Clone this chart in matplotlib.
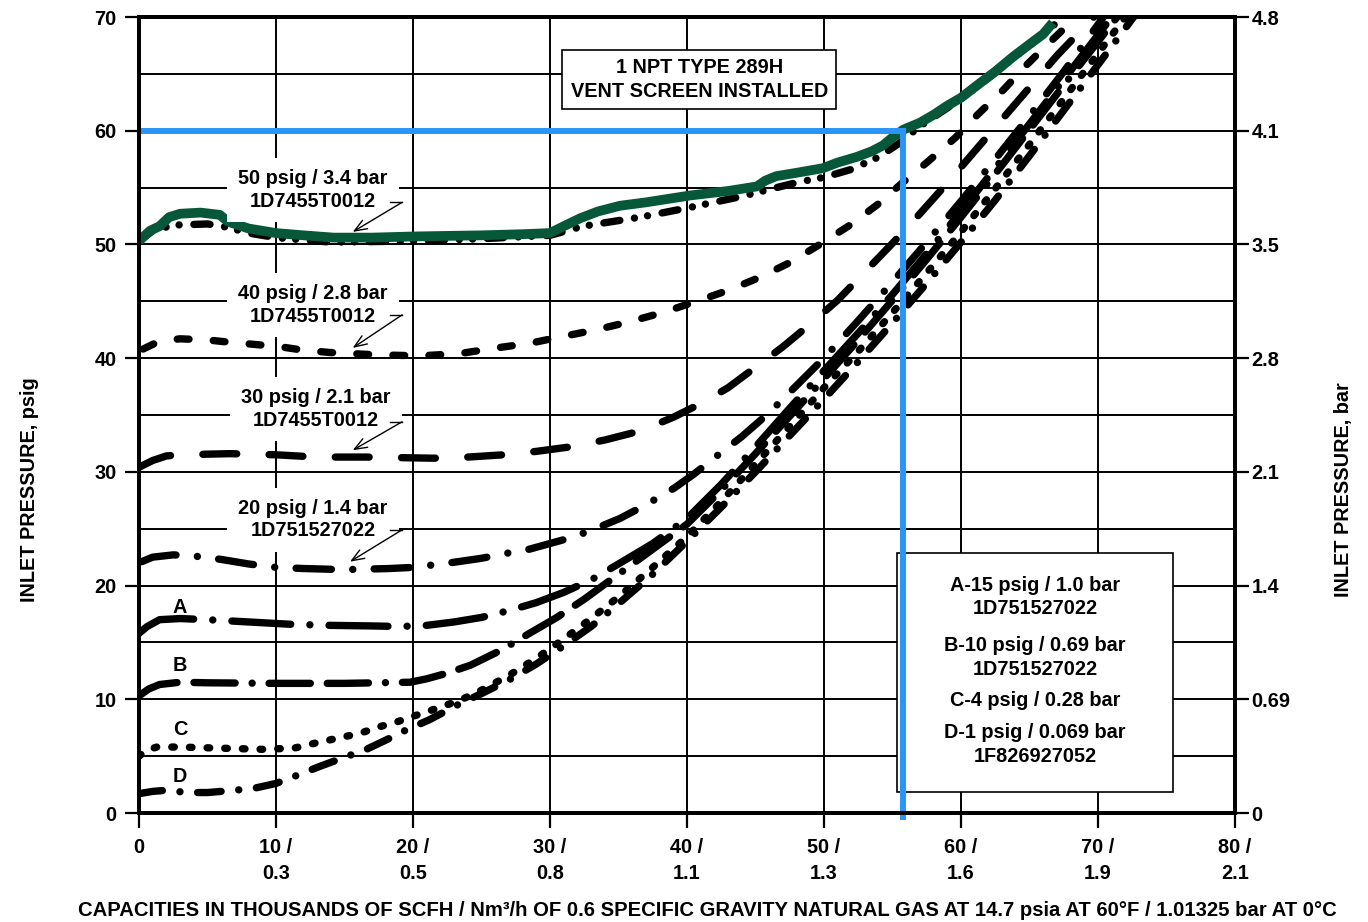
import matplotlib
matplotlib.use("Agg")
import matplotlib.pyplot as plt
from matplotlib.patches import Rectangle

plt.rcParams['font.family'] = ['Liberation Sans', 'DejaVu Sans']
plt.rcParams['font.weight'] = 'bold'

# ---------------- data ----------------
x_ticks = [0, 10, 20, 30, 40, 50, 60, 70, 80]
x_tick_labels = ['0', '10 /\n0.3', '20 /\n0.5', '30 /\n0.8', '40 /\n1.1',
                 '50 /\n1.3', '60 /\n1.6', '70 /\n1.9', '80 /\n2.1']
psig_ticks = [0, 10, 20, 30, 40, 50, 60, 70]
bar_tick_labels = ['0', '0.69', '1.4', '2.1', '2.8', '3.5', '4.1', '4.8']

# measured curve with vent screen installed (green)
vent_x = [0, 0.8, 1.5, 2.2, 3.0, 4.5, 5.9, 6.5, 8.0, 10, 12, 14.2, 17, 20, 25, 28, 30, 31,
          32.2, 33.5, 35.1, 37, 40.2, 43, 45.1, 45.7, 46.5, 48, 49.9, 51, 52.4, 53.5, 54.3,
          55, 55.8, 57, 58, 59, 60, 61.4, 62.5, 63.8, 65, 66, 66.7]
vent_y = [50.3, 51.2, 51.6, 52.4, 52.7, 52.8, 52.6, 52.0, 51.4, 51.0, 50.8, 50.6, 50.6, 50.7,
          50.8, 50.9, 51.0, 51.6, 52.3, 52.9, 53.4, 53.7, 54.3, 54.7, 55.1, 55.6, 56.0, 56.3,
          56.7, 57.2, 57.7, 58.2, 58.7, 59.4, 60.1, 60.7, 61.4, 62.2, 62.9, 64.2, 65.2, 66.5,
          67.6, 68.5, 69.5]

p50_x = [0, 1.0, 2.5, 5.0, 6.5, 8.0, 10, 14, 20, 25, 30, 32.4, 36.6, 40, 43.9, 48.2, 50, 52,
         54, 55.5, 57, 59, 61, 63, 65, 66.7, 67.4]
p50_y = [50.3, 51.2, 51.7, 51.8, 51.5, 51.0, 50.6, 50.2, 50.3, 50.5, 50.8, 51.6, 52.4, 53.2,
         54.2, 55.5, 55.9, 56.6, 57.7, 58.9, 60.4, 62.0, 63.7, 65.6, 67.5, 69.2, 70]

p40_x = [0.3, 1.5, 3, 5, 6.6, 8.5, 10.3, 12, 13.9, 15.5, 17.2, 20.5, 23.4, 26.1, 28.5, 30.9,
         33.4, 35.8, 38.2, 40.7, 43.1, 45.3, 47.5, 49.7, 51.9, 53.9, 55.8, 57.6, 59.6, 61.2,
         63.1, 64.8, 66.5, 68.4]
p40_y = [40.8, 41.5, 41.7, 41.6, 41.4, 41.2, 41.0, 40.7, 40.5, 40.4, 40.3, 40.2, 40.4, 40.9,
         41.3, 41.9, 42.5, 43.2, 44.0, 45.0, 46.0, 47.1, 48.4, 50.0, 51.7, 53.5, 55.5, 57.3,
         59.4, 61.4, 63.6, 65.8, 67.8, 70]

p30_x = [0, 1, 2, 3, 6.6, 10, 13, 16.6, 21.5, 24, 26.6, 29, 31.5, 34, 36.6, 39, 41, 43, 45,
         47, 49, 51, 53, 55, 57, 59, 61, 63, 65, 67, 69.7]
p30_y = [30.4, 31.0, 31.4, 31.5, 31.6, 31.5, 31.3, 31.3, 31.2, 31.3, 31.5, 31.8, 32.2, 32.8,
         33.6, 34.8, 36.0, 37.4, 39.2, 41.0, 43.0, 45.1, 47.6, 50.1, 52.7, 55.4, 58.2, 61.0,
         63.8, 66.6, 70]

p20_x = [0.2, 1, 2.5, 4, 6, 8, 10, 12, 15, 18.3, 20, 22.7, 25, 27.1, 28.5, 31.2, 32.9, 35.1,
         37, 39.1, 40.5, 42.6, 44, 46, 48, 50, 52.5, 55, 57.5, 60, 62.5, 65, 67.5, 70.4]
p20_y = [22.1, 22.5, 22.7, 22.6, 22.3, 21.9, 21.6, 21.5, 21.4, 21.5, 21.6, 22.0, 22.4, 22.9,
         23.2, 24.1, 24.8, 25.9, 27.1, 28.6, 29.8, 31.8, 33.1, 35.2, 37.6, 40.0, 43.3, 46.7,
         50.2, 53.8, 57.5, 61.3, 65.2, 70]

pA_x = [0, 0.6, 1.5, 3, 5, 8, 11, 14, 17, 19, 21, 23, 25, 27, 29, 31, 33, 35, 37.5, 40, 42.5,
        45, 47.5, 50, 52.5, 55, 57.5, 60, 62.5, 65, 67.5, 71.0]
pA_y = [15.8, 16.4, 17.0, 17.1, 17.0, 16.8, 16.6, 16.5, 16.45, 16.4, 16.5, 16.8, 17.2, 17.8,
        18.5, 19.4, 20.5, 21.9, 23.7, 25.9, 28.9, 32.2, 35.6, 38.9, 42.2, 45.6, 49.2, 52.9,
        56.7, 60.6, 64.5, 70]

pB_x = [0, 0.7, 1.5, 3, 5, 10, 15, 19.8, 21, 22.5, 24.2, 26.4, 28.5, 30.5, 32.5, 35, 37.5, 40,
        42.5, 45, 47.5, 50, 52.5, 55, 57.5, 60, 62.5, 65, 67.5, 71.4]
pB_y = [10.3, 10.9, 11.3, 11.5, 11.45, 11.4, 11.4, 11.5, 11.8, 12.3, 13.0, 14.3, 15.8, 17.2,
        18.8, 21.0, 23.2, 25.4, 28.4, 31.6, 34.9, 38.2, 41.6, 45.1, 48.7, 52.4, 56.2, 60.1,
        64.0, 70]

pC_x = [0, 0.5, 1.3, 3, 6, 9, 11.3, 12.7, 14.2, 16.1, 17.6, 18.8, 20, 21.5, 23.4, 25, 27, 29,
        31, 33, 35, 37.5, 40, 42.5, 45, 47.5, 50, 52.5, 55, 57.5, 60, 62.5, 65, 67.5, 70, 72.0]
pC_y = [5.0, 5.5, 5.8, 5.8, 5.7, 5.6, 5.7, 6.1, 6.5, 7.0, 7.6, 8.0, 8.5, 9.1, 9.9, 10.8, 12.1,
        13.6, 15.3, 17.1, 19.0, 21.6, 24.3, 27.4, 30.7, 34.0, 37.4, 40.6, 44.0, 47.5, 51.1,
        54.9, 58.8, 62.8, 66.8, 70]

pD_x = [0, 1, 2, 3.5, 5, 7, 8.5, 10, 11.3, 13.2, 15, 16.6, 18, 19.5, 21.2, 23.4, 25, 27, 29,
        31, 33, 35, 37.5, 40, 42.5, 45, 47.5, 50, 52.5, 55, 57.5, 60, 62.5, 65, 67.5, 70, 72.6]
pD_y = [1.7, 1.9, 2.0, 1.8, 1.8, 2.0, 2.2, 2.6, 3.2, 4.1, 4.9, 5.6, 6.4, 7.3, 8.2, 9.6, 10.5,
        11.7, 13.1, 14.7, 16.4, 18.4, 21.0, 23.9, 26.9, 30.0, 33.2, 36.4, 39.7, 43.1, 46.6,
        50.2, 53.9, 57.8, 61.8, 65.8, 70]

# operating point (blue guide lines)
op_capacity = 55.8
op_pressure = 60

legend_lines = ['A-15 psig / 1.0 bar', '1D751527022', 'B-10 psig / 0.69 bar', '1D751527022',
                'C-4 psig / 0.28 bar', 'D-1 psig / 0.069 bar', '1F826927052']

# ---------------- figure ----------------
FS = 14.3
W, H = 1368, 922
fig = plt.figure(figsize=(W / 100, H / 100), dpi=100)
L, R, T, B = 139, 1235, 17, 813
ax = fig.add_axes([L / W, 1 - B / H, (R - L) / W, (B - T) / H])
ax.set_xlim(0, 80)
ax.set_ylim(0, 70)

ax.set_xticks(x_ticks)
ax.set_xticklabels(x_tick_labels, fontsize=FS, fontweight='bold', linespacing=1.45)
ax.set_yticks(psig_ticks)
ax.set_yticklabels([str(v) for v in psig_ticks], fontsize=FS, fontweight='bold')
ax.set_yticks([5, 15, 25, 35, 45, 55, 65], minor=True)
ax.tick_params(axis='y', which='minor', length=0)
ax.tick_params(axis='y', which='major', direction='out', length=10, width=1.6, pad=6)
ax.tick_params(axis='x', which='major', direction='out', length=11, width=1.6, pad=7)
ax.grid(which='both', axis='y', color='black', lw=1.4, zorder=0.5)
ax.grid(which='major', axis='x', color='black', lw=1.4, zorder=0.5)
ax.set_axisbelow(True)
for s in ax.spines.values():
    s.set_linewidth(2.8)
    s.set_zorder(7)

ax2 = ax.twinx()
ax2.set_ylim(0, 70)
ax2.set_yticks(psig_ticks)
ax2.set_yticklabels(bar_tick_labels, fontsize=FS, fontweight='bold')
ax2.tick_params(axis='y', direction='out', length=10, width=1.6, pad=2)
for s in ax2.spines.values():
    s.set_linewidth(2.8)

lw = 5.3
kw = dict(color='black', lw=lw, dash_capstyle='round', solid_capstyle='round', zorder=3)
ax.plot(p50_x, p50_y, linestyle=(0, (2.2, 2.0, 0.01, 1.8, 0.01, 2.0)), **kw)
ax.plot(p40_x, p40_y, linestyle=(0, (1.6, 3.3)), **kw)
ax.plot(p30_x, p30_y, linestyle=(0, (4.6, 4.4)), **kw)
ax.plot(p20_x, p20_y, linestyle=(0, (4.8, 2.9, 0.01, 2.9)), **kw)
ax.plot(pA_x, pA_y, linestyle=(0, (8.0, 2.6, 0.01, 2.6)), **kw)
ax.plot(pB_x, pB_y, linestyle=(0, (5.6, 2.3, 5.6, 2.3, 0.01, 2.3)), **kw)
ax.plot(pC_x, pC_y, linestyle=(0, (0.35, 2.05)), **kw)
ax.plot(pD_x, pD_y, linestyle=(0, (3.2, 2.4, 0.01, 2.4)), **kw)

ax.plot(vent_x, vent_y, color='#07573a', lw=7, solid_capstyle='butt',
        solid_joinstyle='round', zorder=4)

# curve labels with arrows
label_kw = dict(ha='center', va='center', fontsize=FS, fontweight='bold', zorder=5,
                linespacing=1.25,
                bbox=dict(facecolor='white', edgecolor='none', pad=8))
curve_labels = [
    ('50 psig / 3.4 bar\n1D7455T0012', 12.7, 54.8, 53.7, 15.6, 51.1),
    ('40 psig / 2.8 bar\n1D7455T0012', 12.7, 44.7, 43.8, 15.6, 40.9),
    ('30 psig / 2.1 bar\n1D7455T0012', 12.9, 35.5, 34.4, 15.6, 31.9),
    ('20 psig / 1.4 bar\n1D751527022', 12.7, 25.8, 24.9, 15.4, 22.1),
]
for txt, tx, ty, hy, ax_tip, ay_tip in curve_labels:
    ax.text(tx, ty, txt, **label_kw)
    ax.plot([18.3, 19.2], [hy, hy], color='black', lw=1.0, zorder=6)
    ax.annotate('', xy=(ax_tip, ay_tip), xytext=(19.2, hy),
                arrowprops=dict(arrowstyle='->,head_length=0.9,head_width=0.35',
                                color='black', lw=1.0, shrinkA=0, shrinkB=0), zorder=6)

for letter, ly in [('A', 18.1), ('B', 13.0), ('C', 7.3), ('D', 3.2)]:
    ax.text(3.0, ly, letter, ha='center', va='center', fontsize=FS,
            fontweight='bold', zorder=5)

# title box
ax.text(40.9, 64.5, '1 NPT TYPE 289H\nVENT SCREEN INSTALLED', ha='center', va='center',
        fontsize=FS, fontweight='bold', linespacing=1.3, zorder=5,
        bbox=dict(facecolor='white', edgecolor='black', lw=1.2, pad=6))

# legend box
ax.add_patch(Rectangle((55.3, 1.85), 20.2, 21.05, facecolor='white', edgecolor='black',
                       lw=1.2, zorder=4.5))
legend_y = [20.05, 18.0, 14.69, 12.58, 9.85, 7.04, 5.01]
for t, y in zip(legend_lines, legend_y):
    ax.text(65.4, y, t, ha='center', va='center', fontsize=FS, fontweight='bold', zorder=5)

# blue operating point guide
ax.plot([0, op_capacity, op_capacity], [op_pressure, op_pressure, -0.6], color='#2a95f7',
        lw=4.3, solid_joinstyle='miter', solid_capstyle='butt', zorder=6, clip_on=False)

# axis titles
fig.text(30 / W, 1 - 490 / H, 'INLET PRESSURE, psig', rotation=90, ha='center',
         va='center', fontsize=FS, fontweight='bold')
fig.text(1343 / W, 1 - 490 / H, 'INLET PRESSURE, bar', rotation=90, ha='center',
         va='center', fontsize=FS, fontweight='bold')
fig.text(707 / W, 1 - 910 / H,
         'CAPACITIES IN THOUSANDS OF SCFH / Nm\u00b3/h OF 0.6 SPECIFIC GRAVITY NATURAL GAS '
         'AT 14.7 psia AT 60\u00b0F / 1.01325 bar AT 0\u00b0C',
         ha='center', va='center', fontsize=14.6, fontweight='bold')

fig.savefig('out.png', dpi=100)
